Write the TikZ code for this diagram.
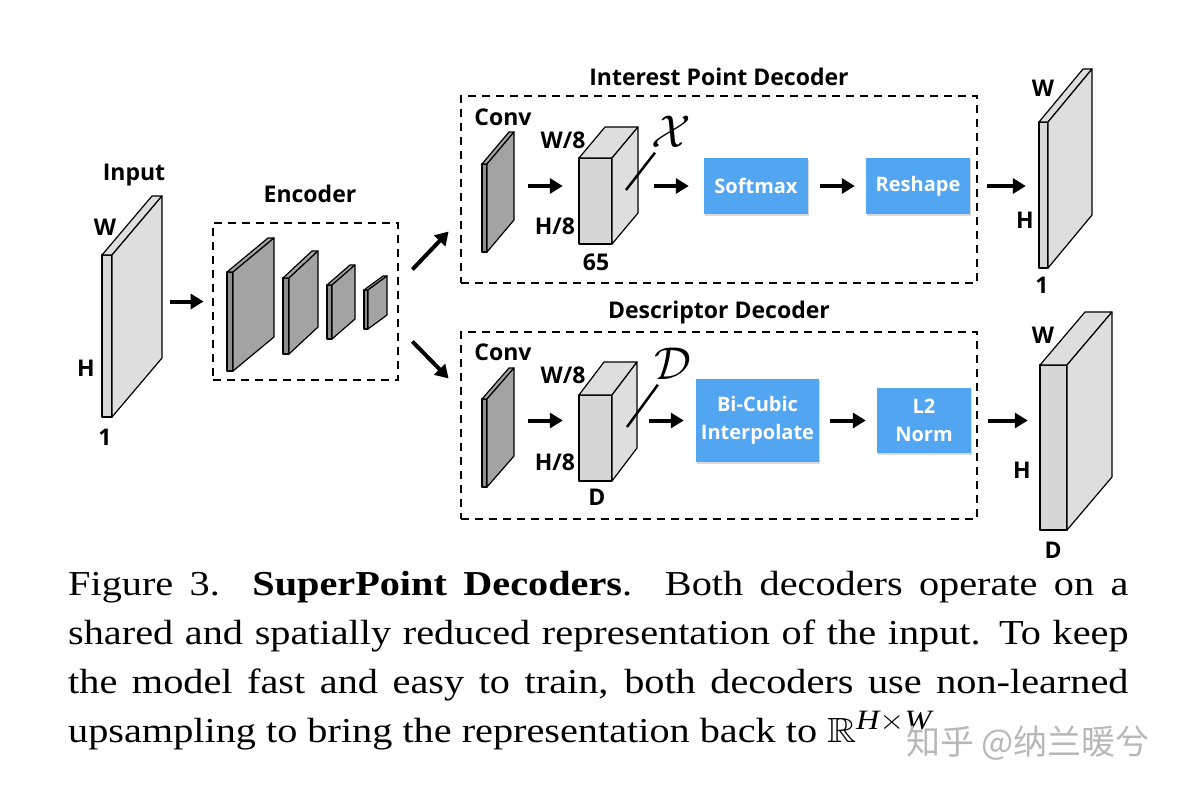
\RequirePackage{fix-cm}
\documentclass[tikz,border=0pt]{standalone}
\usepackage{amssymb}
\usepackage{fontspec}
\setmainfont{Liberation Serif}
\setsansfont{Open Sans}
\newfontfamily\cjk{Noto Sans CJK SC}
\usetikzlibrary{arrows.meta,shadows}
\DeclareMathSizes{35}{35}{28}{20}

\definecolor{boxblue}{RGB}{82,165,240}
\definecolor{slablight}{RGB}{222,222,222}
\definecolor{slablightfront}{RGB}{214,214,214}
\definecolor{slabdark}{RGB}{163,163,163}
\definecolor{slabdarkfront}{RGB}{142,142,142}

% slab: name, x, y, width, height, depth x, depth y, fill
\newcommand{\slab}[8]{%
  \draw[slabline,fill=#8front] (#2,#3) rectangle ++(#4,#5);
  \draw[slabline,fill=#8] (#2,#3) -- ++(#6,-#7) -- ++(#4,0) -- ++(-#6,#7) -- cycle;
  \draw[slabline,fill=#8] (#2+#4,#3) -- ++(#6,-#7) -- ++(0,#5) -- ++(-#6,#7) -- cycle;
  \node[inner sep=0pt,minimum width=#4+#6,minimum height=#5+#7] (#1) at (#2+#4/2+#6/2,#3+#5/2-#7/2) {};
}

\begin{document}
\begin{tikzpicture}[x=1pt,y=-1pt,
    lbl/.style={font=\sffamily\bfseries\fontsize{23}{26}\selectfont,inner sep=0pt},
    blk/.style={fill=boxblue,text=white,font=\sffamily\bfseries\fontsize{20}{28}\selectfont,align=center,inner sep=0pt,
      drop shadow={shadow xshift=0.8pt,shadow yshift=-1.6pt,opacity=0.3}},
    dbox/.style={draw,line width=2.8pt,dash pattern=on 8pt off 6pt,inner sep=0pt},
    arr/.style={line width=4pt,-{Triangle[length=13pt,width=15pt]}},
    slabline/.style={line width=1.2pt,line join=round},
    pointer/.style={line width=2.5pt},
    sym/.style={font=\fontsize{46}{46}\selectfont,inner sep=0pt}]

\fill[white] (0,0) rectangle (1186,792);
\useasboundingbox (0,0) rectangle (1186,792);

% input
\slab{input}{102}{255}{10}{162}{50}{59}{slablight}
\node[lbl] (inlbl) at (134,175) {Input};
\node[lbl] (inw) at (105,227) {W};
\node[lbl] (inh) at (86,368) {H};
\node[lbl] (in1) at (105,437) {1};

% encoder
\node[dbox,minimum width=185,minimum height=157] (enc) at (305.5,301.5) {};
\node[lbl] (enclbl) at (310,194) {Encoder};
\slab{e1}{227}{272}{6}{99}{41}{34}{slabdark}
\slab{e2}{283}{278}{6}{76}{29}{27}{slabdark}
\slab{e3}{327}{285}{5}{54}{23}{20}{slabdark}
\slab{e4}{364}{290}{4}{39}{19}{14}{slabdark}

% interest point decoder
\node[dbox,minimum width=516,minimum height=187] (ipd) at (719,189.5) {};
\node[lbl] (ipdlbl) at (719,77) {Interest Point Decoder};
\node[lbl] (conv1lbl) at (503,117) {Conv};
\slab{conv1}{482}{164}{5}{88}{27}{32}{slabdark}
\slab{cube1}{579}{158}{33}{86}{26}{31}{slablight}
\node[lbl] (c1w) at (563,140) {W/8};
\node[lbl] (c1h) at (555,226) {H/8};
\node[lbl] (c1d) at (596,262) {65};
\node[sym] (xsym) at (671,132) {$\mathcal{X}$};
\coordinate (xtip) at (626,190);
\draw[pointer,shorten >=6pt] (xtip) -- (xsym);
\node[blk,minimum width=104,minimum height=56] (softmax) at (756,186) {Softmax};
\node[blk,minimum width=104,minimum height=56] (reshape) at (918,186) {Reshape};

% descriptor decoder
\node[dbox,minimum width=516,minimum height=187] (dd) at (719,425.5) {};
\node[lbl] (ddlbl) at (719,313) {Descriptor Decoder};
\node[lbl] (conv2lbl) at (503,352) {Conv};
\slab{conv2}{482}{399}{5}{88}{27}{31}{slabdark}
\slab{cube2}{579}{395}{33}{86}{25}{33}{slablight}
\node[lbl] (c2w) at (563,375) {W/8};
\node[lbl] (c2h) at (555,462) {H/8};
\node[lbl] (c2d) at (597,497) {D};
\node[sym] (dsym) at (673,364) {$\mathcal{D}$};
\coordinate (dtip) at (627,427);
\draw[pointer,shorten >=6pt] (dtip) -- (dsym);
\node[blk,minimum width=123,minimum height=83] (bicubic) at (757.5,420.5) {Bi-Cubic\\Interpolate};
\node[blk,minimum width=94,minimum height=65] (l2norm) at (924,420.5) {L2\\Norm};

% outputs
\slab{out1}{1039}{122}{9}{146}{44}{53}{slablight}
\node[lbl] (o1w) at (1043,88) {W};
\node[lbl] (o1h) at (1025,220) {H};
\node[lbl] (o11) at (1042,285) {1};
\slab{out2}{1040}{365}{27}{165}{45}{53}{slablight}
\node[lbl] (o2w) at (1043,335) {W};
\node[lbl] (o2h) at (1022,470) {H};
\node[lbl] (o2d) at (1053,550) {D};

% arrows
\draw[arr,shorten <=8pt,shorten >=8pt] (input.east |- enc.west) -- (enc.west);
\draw[arr] ([shift={(13,-32)}]enc.east) -- ([shift={(-11,42)}]ipd.west);
\draw[arr] ([shift={(13,40)}]enc.east) -- ([shift={(-11,-47)}]dd.west);
\draw[arr,shorten <=14pt,shorten >=16pt] (conv1.east |- softmax.west) -- (cube1.west |- softmax.west);
\draw[arr,shorten <=16pt,shorten >=15pt] (cube1.east |- softmax.west) -- (softmax.west);
\draw[arr,shorten <=12pt,shorten >=11pt] (softmax) -- (reshape);
\draw[arr,shorten <=17pt,shorten >=13pt] (reshape.east) -- (out1.west |- reshape.east);
\draw[arr,shorten <=14pt,shorten >=16pt] (conv2.east |- bicubic.west) -- (cube2.west |- bicubic.west);
\draw[arr,shorten <=12pt,shorten >=12pt] (cube2.east |- bicubic.west) -- (bicubic.west);
\draw[arr,shorten <=11pt,shorten >=11pt] (bicubic) -- (l2norm);
\draw[arr,shorten <=17pt,shorten >=12pt] (l2norm.east) -- (out2.west |- l2norm.east);

% caption
\node[anchor=north west,inner sep=0pt] (cap) at (68,571) {\scalebox{1.15}[1]{\parbox{922pt}{\fontsize{35}{49}\selectfont
  Figure 3. \textbf{SuperPoint Decoders}.\ \ Both decoders operate on a\linebreak
  shared and spatially reduced representation of the input. To keep\linebreak
  the model fast and easy to train, both decoders use non-learned\linebreak
  upsampling to bring the representation back to $\mathbb{R}^{\mathit{H}\times \mathit{W}}$}}};
\node[text=black!28,font=\cjk\fontsize{34}{34}\selectfont,inner sep=0pt] (wm) at (1028,743) {知乎 @纳兰暖兮};
\end{tikzpicture}
\end{document}
